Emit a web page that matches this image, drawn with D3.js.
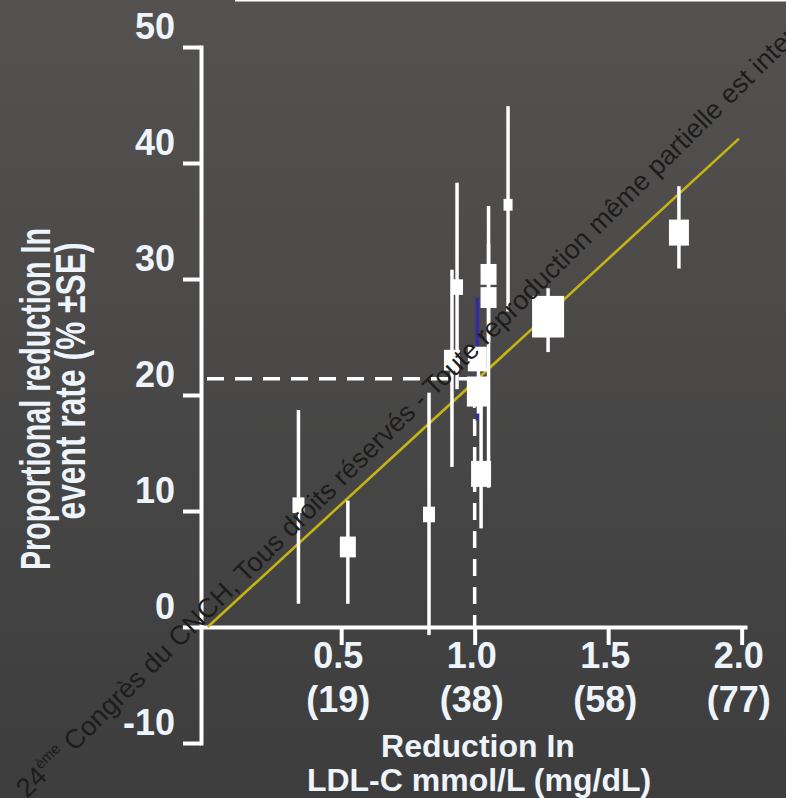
<!DOCTYPE html>
<meta charset="utf-8">
<style>
body { margin: 0; background: #454545; }
svg { display: block; }
.ci { stroke: #fff; stroke-width: 3.5px; }
.box { fill: #fff; }
.fit { fill: none; stroke: #c4b414; stroke-width: 2.6px; }
.ref { fill: none; stroke: #fff; stroke-width: 3.5px; stroke-dasharray: 17,11; }
.axis path, .axis line { stroke: #fff; stroke-width: 4px; }
.lbl { fill: #eef4fb; font-family: "Liberation Sans", Arial, sans-serif; font-weight: bold; }
</style>
<body>

<script src="https://d3js.org/d3.v7.min.js"></script>
<script>

// trials: LDL-C reduction (mmol/L), proportional reduction in event rate (%) with its CI
var trialX      = [0.34, 0.525, 0.829, 0.915, 0.934, 1.01, 1.014, 1.024, 1.052, 1.052, 1.125, 1.275, 1.765];
var trialEst    = [10.5, 6.9, 9.7, 23.0, 29.3, 23.1, 20.3, 13.2, 30.4, 28.4, 36.4, 26.75, 34.0];
var trialLo     = [2.0, 2.0, -0.7, 13.8, 20.5, 17.8, 18.4, 8.5, 24.5, 12.0, 27.2, 23.7, 30.9];
var trialHi     = [18.7, 10.9, 20.2, 30.8, 38.3, 28.4, 22.4, 19.5, 36.3, 33.0, 44.9, 29.2, 38.0];
var trialWeight = [1.4, 2.5, 1.4, 2.5, 1.4, 3.5, 5.2, 3.9, 2.5, 2.5, 0.8, 10, 3.9];
var blueTrial = 5;

// regression line and the 1 mmol/L reference
var fitX = [0, 1.99];
var fitY = [0, 42.1];
var refX = 1.0;
var refY = 21.4;

// ticks
var yTicks = [-10, 0, 10, 20, 30, 40, 50];
var xTicks = [0.5, 1.0, 1.5, 2.0];
var xTickMg = ["(19)", "(38)", "(58)", "(77)"];

var width = 786, height = 798;

var svg = d3.select("body").append("svg")
    .attr("width", width)
    .attr("height", height);

// background
var grad = svg.append("defs").append("linearGradient")
    .attr("id", "bg").attr("x1", 0).attr("y1", 0).attr("x2", 0).attr("y2", 1);
grad.append("stop").attr("offset", "0%").attr("stop-color", "#545251");
grad.append("stop").attr("offset", "100%").attr("stop-color", "#3d3d3d");
svg.append("rect").attr("width", width).attr("height", height).attr("fill", "url(#bg)");
svg.append("line").attr("x1", 235).attr("x2", width).attr("y1", 0.5).attr("y2", 0.5)
    .attr("stroke", "#fff").attr("stroke-width", 2);

// scales
var x = d3.scaleLinear().domain([-0.025, 2.02]).range([201, 747]);
var y = d3.scaleLinear().domain([-10, 50]).range([743, 47]);
var boxSize = d3.scaleSqrt().domain([0, 10]).range([0, 32]);

// axes
svg.append("g")
    .attr("class", "axis")
    .attr("transform", "translate(0," + y(0) + ")")
    .call(d3.axisBottom(x).tickValues(xTicks).tickSize(18).tickSizeOuter(0).tickFormat(""));

var yAxis = svg.append("g")
    .attr("class", "axis")
    .attr("transform", "translate(" + x.range()[0] + ",0)")
    .call(d3.axisLeft(y).tickValues(yTicks).tickSize(18).tickSizeOuter(0).tickPadding(8)
        .tickFormat(function(d) { return String(d); }));
yAxis.select(".domain").attr("stroke-linecap", "square");
yAxis.selectAll("text")
    .attr("class", "lbl")
    .attr("y", -20)
    .attr("fill", null)
    .style("font-size", "36px");
yAxis.attr("font-family", null).attr("font-size", null);

// x tick labels, mmol/L and mg/dL
var xl = svg.selectAll(".xl").data(xTicks).enter().append("text")
    .attr("class", "lbl")
    .attr("text-anchor", "middle")
    .style("font-size", "36px");
xl.append("tspan")
    .attr("x", function(d) { return x(d) - 3; })
    .attr("y", y(0) + 41)
    .text(function(d) { return d.toFixed(1); });
xl.append("tspan")
    .attr("x", function(d) { return x(d) - 3; })
    .attr("y", y(0) + 85)
    .text(function(d, i) { return xTickMg[i]; });

// axis titles
svg.append("text").attr("class", "lbl")
    .attr("x", 478).attr("y", 757)
    .attr("text-anchor", "middle")
    .style("font-size", "32px")
    .text("Reduction In");
svg.append("text").attr("class", "lbl")
    .attr("x", 479).attr("y", 791)
    .attr("text-anchor", "middle")
    .style("font-size", "32px")
    .text("LDL-C mmol/L (mg/dL)");

svg.append("text").attr("class", "lbl")
    .attr("transform", "translate(50,399) rotate(-90)")
    .attr("text-anchor", "middle")
    .attr("textLength", 342).attr("lengthAdjust", "spacingAndGlyphs")
    .style("font-size", "42px")
    .text("Proportional reduction In");
svg.append("text").attr("class", "lbl")
    .attr("transform", "translate(85,381) rotate(-90)")
    .attr("text-anchor", "middle")
    .attr("textLength", 277).attr("lengthAdjust", "spacingAndGlyphs")
    .style("font-size", "42px")
    .text("event rate (% ±SE)");

// dashed reference lines at 1 mmol/L
svg.append("path").attr("class", "ref")
    .attr("d", d3.line()([[x.range()[0] + 6, y(refY)], [x(refX), y(refY)], [x(refX), y(0)]]));

// regression line
svg.append("path")
    .datum(d3.zip(fitX, fitY))
    .attr("class", "fit")
    .attr("d", d3.line().x(function(d) { return x(d[0]); }).y(function(d) { return y(d[1]); }));

// confidence intervals then the boxes
var idx = d3.range(trialX.length);
svg.selectAll(".ci").data(idx).enter().append("line")
    .attr("class", "ci")
    .attr("x1", function(i) { return x(trialX[i]); })
    .attr("x2", function(i) { return x(trialX[i]); })
    .attr("y1", function(i) { return y(trialHi[i]); })
    .attr("y2", function(i) { return y(trialLo[i]); })
    .style("stroke", function(i) { return i === blueTrial ? "#2e2e9c" : null; });

svg.selectAll(".box").data(idx).enter().append("rect")
    .attr("class", "box")
    .attr("x", function(i) { return x(trialX[i]) - boxSize(trialWeight[i]) / 2; })
    .attr("y", function(i) { return y(trialEst[i]) - boxSize(trialWeight[i]) * 0.65; })
    .attr("width", function(i) { return boxSize(trialWeight[i]); })
    .attr("height", function(i) { return boxSize(trialWeight[i]) * 1.3; });

// watermark
var wm = svg.append("text")
    .attr("transform", "translate(27,799) rotate(-44.6)")
    .attr("fill", "#1c1c1c")
    .style("font-family", "'Liberation Sans', Arial, sans-serif")
    .style("font-size", "27px");
wm.append("tspan").text("24");
wm.append("tspan").attr("dy", -11).style("font-size", "15px").text("ème");
wm.append("tspan").attr("dy", 11).text(" Congrès du CNCH, Tous droits réservés - Toute reproduction même partielle est interdite");

</script>
</body>
